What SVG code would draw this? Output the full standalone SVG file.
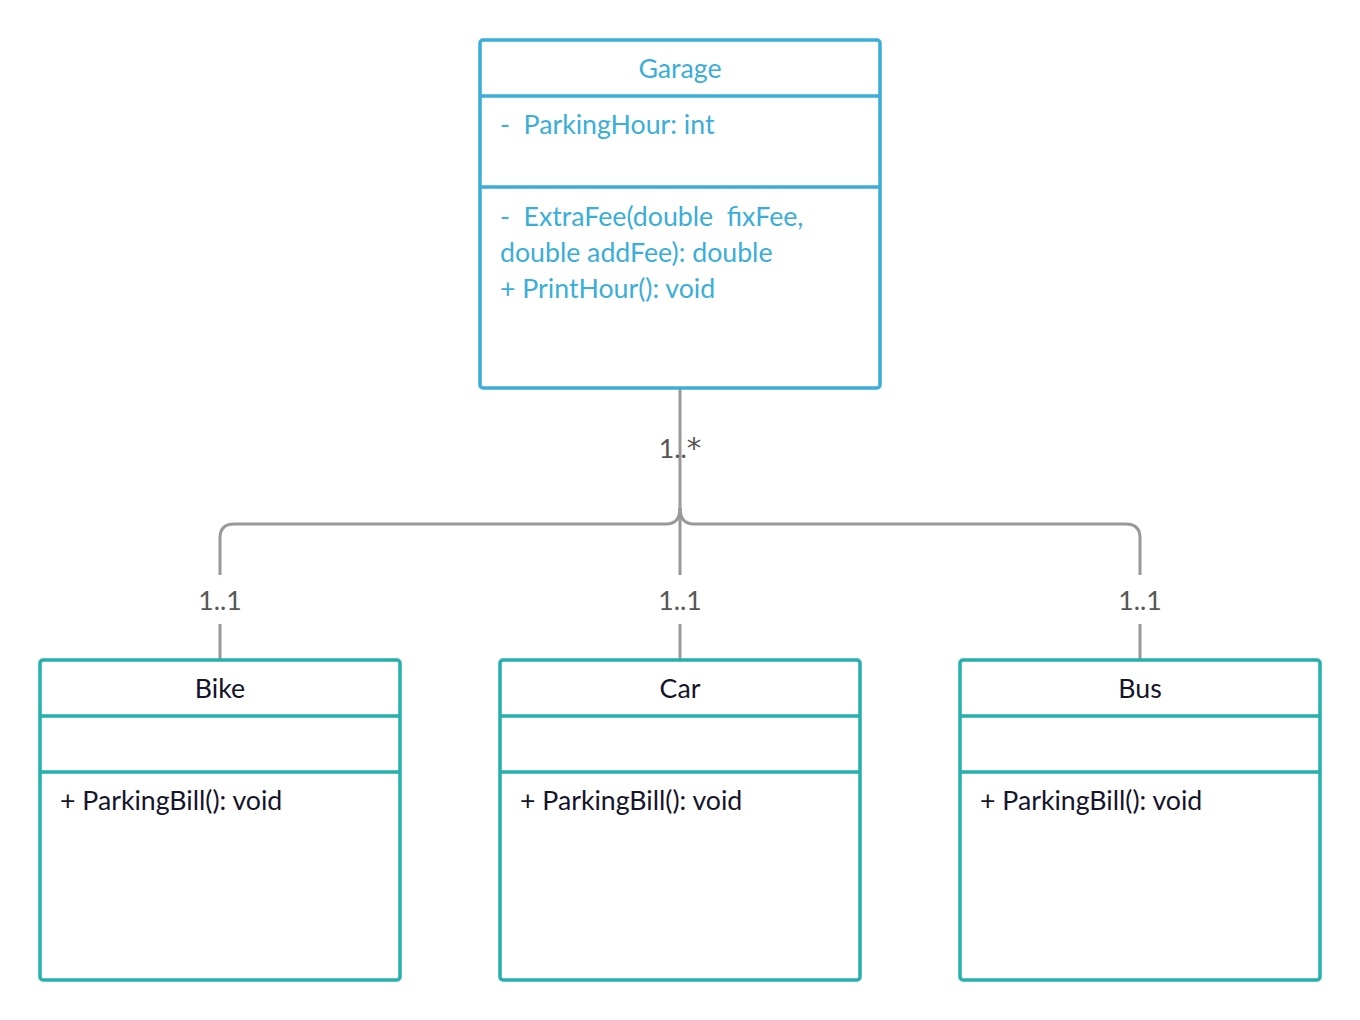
<svg xmlns="http://www.w3.org/2000/svg" width="1360" height="1020" viewBox="0 0 1360 1020">
<style>
.garage{fill:#fff;stroke:#3aaed8;stroke-width:3.5}
.gdiv{stroke:#3aaed8;stroke-width:3.5}
.gtxt{font-family:Lato,"Liberation Sans",sans-serif;font-size:26.7px;fill:#3aaed8}
.cls{fill:#fff;stroke:#25b0ae;stroke-width:3.5}
.cdiv{stroke:#25b0ae;stroke-width:3.5}
.ctxt{font-family:Lato,"Liberation Sans",sans-serif;font-size:26.7px;fill:#14142b}
.conn{fill:none;stroke:#999;stroke-width:3}
.lbl{font-family:Lato,"Liberation Sans",sans-serif;font-size:26.7px;fill:#555;text-anchor:middle}
.ast{font-family:"DejaVu Sans",sans-serif;font-size:29px}
</style>
<g id="connectors">
<path class="conn" d="M680,388 L680,575 M680,624 L680,660"/>
<path class="conn" d="M220,575 L220,538 Q220,524 234,524 L666,524 Q680,524 680,508"/>
<path class="conn" d="M1140,575 L1140,538 Q1140,524 1126,524 L694,524 Q680,524 680,508"/>
<path class="conn" d="M220,624 L220,660 M1140,624 L1140,660"/>
<text class="lbl" x="680" y="458">1..<tspan class="ast">*</tspan></text>
<text class="lbl" x="220" y="610">1..1</text>
<text class="lbl" x="680" y="610">1..1</text>
<text class="lbl" x="1140" y="610">1..1</text>
</g>
<g id="garage">
<rect class="garage" x="480" y="40" width="400" height="348" rx="3"/>
<line class="gdiv" x1="480" y1="96" x2="880" y2="96"/>
<line class="gdiv" x1="480" y1="187" x2="880" y2="187"/>
<text class="gtxt" x="680" y="78" text-anchor="middle">Garage</text>
<text class="gtxt" x="500" y="134" xml:space="preserve">-  ParkingHour: int</text>
<text class="gtxt" x="500" y="226" xml:space="preserve">-  ExtraFee(double  fixFee,</text>
<text class="gtxt" x="500" y="262">double addFee): double</text>
<text class="gtxt" x="500" y="298">+ PrintHour(): void</text>
</g>
<g id="bike">
<rect class="cls" x="40" y="660" width="360" height="320" rx="3"/>
<line class="cdiv" x1="40" y1="716" x2="400" y2="716"/>
<line class="cdiv" x1="40" y1="772" x2="400" y2="772"/>
<text class="ctxt" x="220" y="698" text-anchor="middle">Bike</text>
<text class="ctxt" x="60" y="810">+ ParkingBill(): void</text>
</g>
<g id="car">
<rect class="cls" x="500" y="660" width="360" height="320" rx="3"/>
<line class="cdiv" x1="500" y1="716" x2="860" y2="716"/>
<line class="cdiv" x1="500" y1="772" x2="860" y2="772"/>
<text class="ctxt" x="680" y="698" text-anchor="middle">Car</text>
<text class="ctxt" x="520" y="810">+ ParkingBill(): void</text>
</g>
<g id="bus">
<rect class="cls" x="960" y="660" width="360" height="320" rx="3"/>
<line class="cdiv" x1="960" y1="716" x2="1320" y2="716"/>
<line class="cdiv" x1="960" y1="772" x2="1320" y2="772"/>
<text class="ctxt" x="1140" y="698" text-anchor="middle">Bus</text>
<text class="ctxt" x="980" y="810">+ ParkingBill(): void</text>
</g>
</svg>
